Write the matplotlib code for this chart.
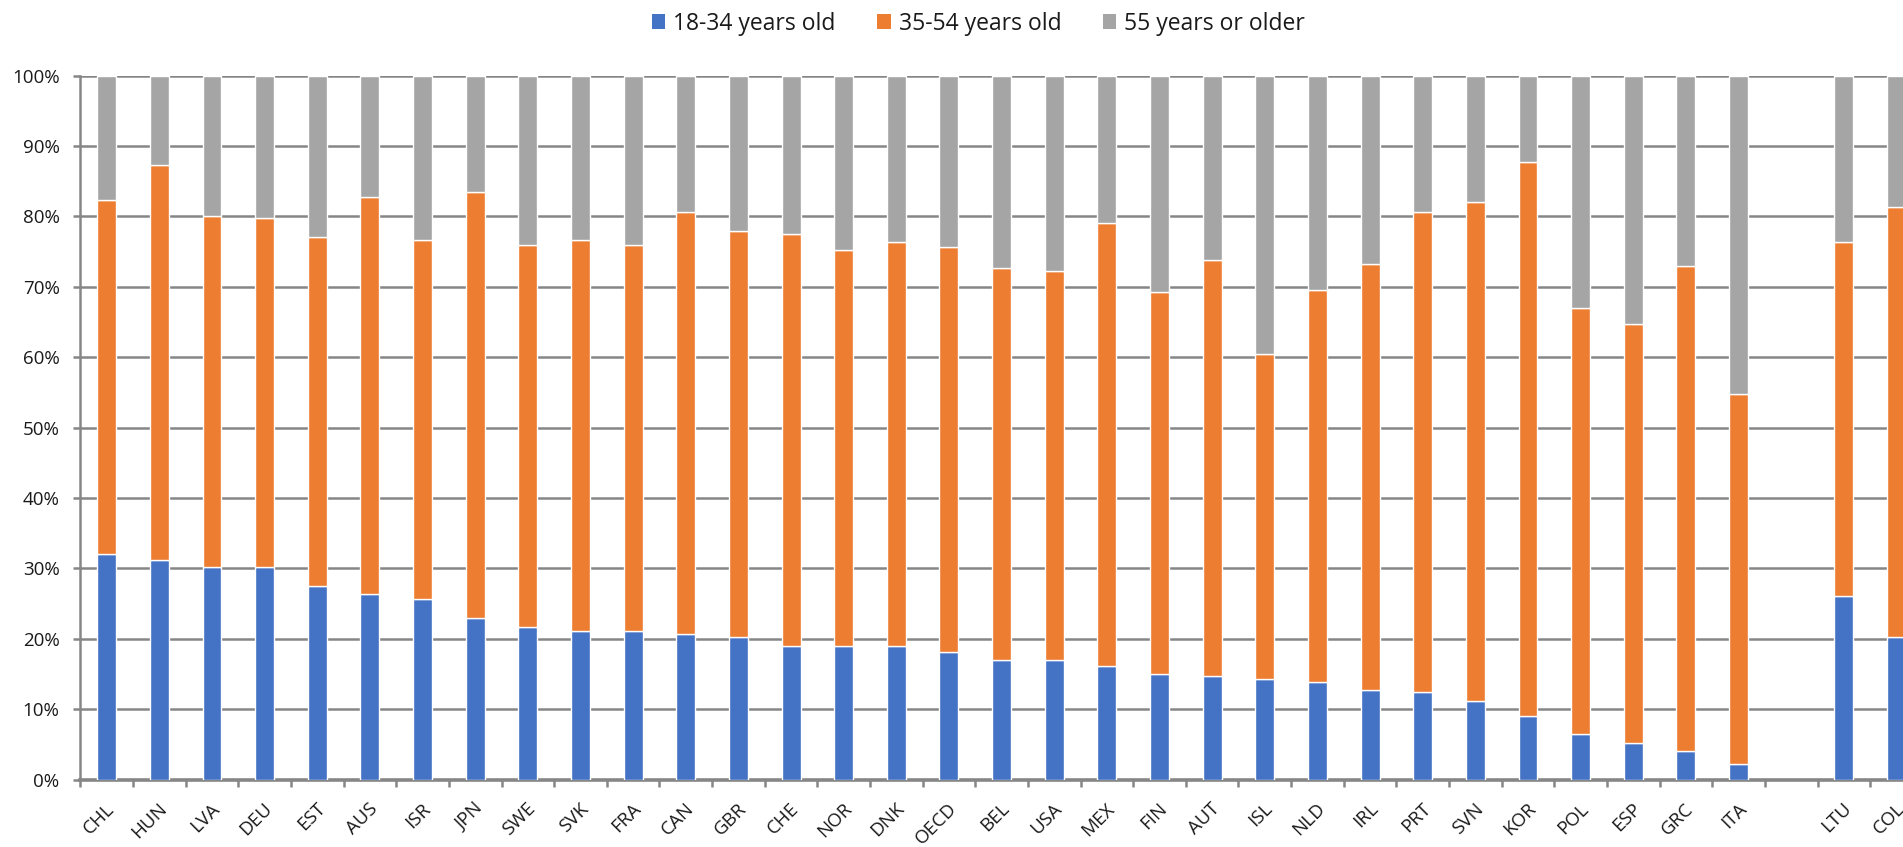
import matplotlib
matplotlib.use("Agg")
import matplotlib.pyplot as plt
import matplotlib.transforms as mtransforms
from matplotlib.patches import Patch
import numpy as np

plt.rcParams['font.family'] = ['Open Sans', 'DejaVu Sans']

countries = ["CHL", "HUN", "LVA", "DEU", "EST", "AUS", "ISR", "JPN", "SWE", "SVK",
             "FRA", "CAN", "GBR", "CHE", "NOR", "DNK", "OECD", "BEL", "USA", "MEX",
             "FIN", "AUT", "ISL", "NLD", "IRL", "PRT", "SVN", "KOR", "POL", "ESP",
             "GRC", "ITA", "", "LTU", "COL"]

# share aged 18-34 (%)
young = [32.1, 31.2, 30.2, 30.2, 27.5, 26.4, 25.6, 22.9, 21.7, 21.1,
         21.1, 20.7, 20.3, 18.9, 18.9, 18.9, 18.1, 17.0, 17.0, 16.1,
         15.0, 14.7, 14.3, 13.9, 12.7, 12.4, 11.2, 9.0, 6.4, 5.2,
         4.1, 2.2, np.nan, 26.1, 20.3]
# cumulative top of 35-54 segment (%)
cum_mid = [82.3, 87.3, 80.0, 79.7, 77.0, 82.7, 76.7, 83.5, 76.0, 76.7,
           76.0, 80.6, 77.9, 77.5, 75.2, 76.4, 75.6, 72.6, 72.2, 79.0,
           69.2, 73.8, 60.5, 69.5, 73.3, 80.6, 82.0, 87.7, 67.0, 64.7,
           73.0, 54.8, np.nan, 76.4, 81.3]

young = np.array(young) / 100
cum_mid = np.array(cum_mid) / 100
middle = cum_mid - young
old = 1 - cum_mid

series_names = ["18-34 years old", "35-54 years old", "55 years or older"]
colors = ["#4472C4", "#ED7D31", "#A5A5A5"]

W, H = 1903, 847
fig = plt.figure(figsize=(W / 100, H / 100), dpi=100)
ax_left = 80.4 / W
ax_bottom = (H - 779.5) / H
ax_h = (779.5 - 75.6) / H
ax = fig.add_axes([ax_left, ax_bottom, 1 - ax_left, ax_h])

x = np.arange(len(countries))
bw = 0.36
edge = dict(edgecolor="white", linewidth=1.0)
ax.bar(x, young, bw, color=colors[0], zorder=3, **edge)
ax.bar(x, middle, bw, bottom=young, color=colors[1], zorder=3, **edge)
ax.bar(x, old, bw, bottom=cum_mid, color=colors[2], zorder=3, **edge)

gridc = "#868686"
ax.set_yticks(np.arange(0, 1.01, 0.1))
ax.set_yticklabels([f"{int(round(v*100))}%" for v in np.arange(0, 1.01, 0.1)])
ax.yaxis.grid(True, color=gridc, linewidth=1.8, zorder=0)
ax.set_axisbelow(True)
ax.tick_params(axis='y', length=5, width=1.8, color=gridc, pad=10,
               labelsize=13.5, labelcolor="#1a1a1a")

# category boundary ticks (major) and centered labels (minor)
ax.set_xticks(np.arange(-0.5, len(countries) + 0.5, 1.0))
ax.set_xticklabels([])
ax.tick_params(axis='x', which='major', length=5, width=1.8, color=gridc)
ax.set_xticks(x, minor=True)
ax.set_xticklabels(countries, minor=True)
ax.tick_params(axis='x', which='minor', length=0, pad=19, labelsize=13.5,
               labelcolor="#1a1a1a")
offset = mtransforms.ScaledTranslation(0.05, 0, fig.dpi_scale_trans)
for lab in ax.get_xticklabels(minor=True):
    lab.set_rotation(45)
    lab.set_rotation_mode('anchor')
    lab.set_ha('right')
    lab.set_va('center')
    lab.set_transform(lab.get_transform() + offset)

ax.set_ylim(0, 1)
ax.set_xlim(-0.5, -0.5 + (W - 80.4) / 52.64)

for s in ["top", "right"]:
    ax.spines[s].set_visible(False)
ax.spines["left"].set_color(gridc)
ax.spines["left"].set_linewidth(1.8)
ax.spines["bottom"].set_color(gridc)
ax.spines["bottom"].set_linewidth(2.6)

handles = [Patch(facecolor=c, edgecolor="none") for c in colors]
fig.legend(handles, series_names, loc="center", ncol=3,
           bbox_to_anchor=(978.5 / W, 1 - 23.5 / H), frameon=False,
           fontsize=16.5, handlelength=0.6, handleheight=0.6,
           handletextpad=0.35, columnspacing=1.8, labelcolor="#1a1a1a")

fig.savefig("out.png", dpi=100)
